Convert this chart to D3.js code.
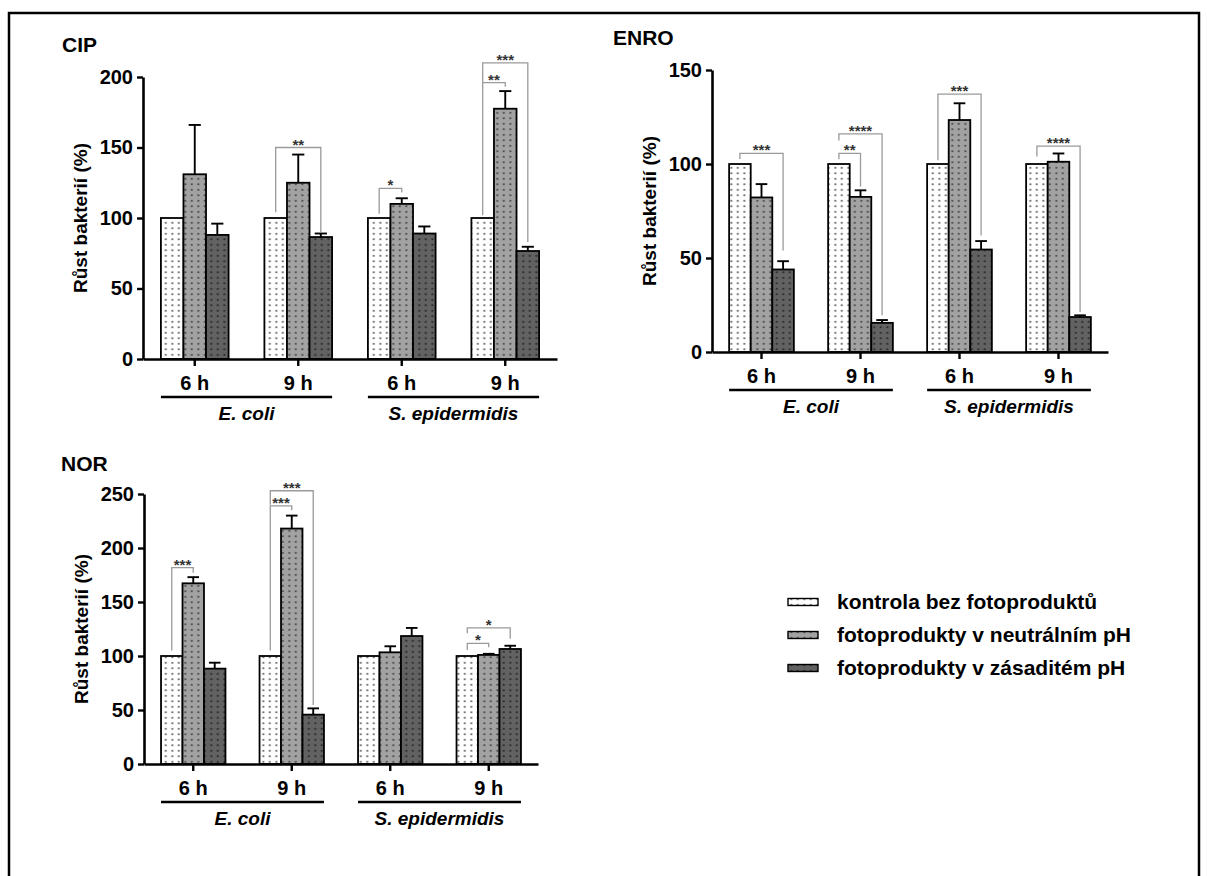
<!DOCTYPE html>
<html>
<head>
<meta charset="utf-8">
<script src="https://cdn.jsdelivr.net/npm/d3@7/dist/d3.min.js"></script>
<style>
  body { margin: 0; background: #fff; }
  svg { display: block; font-family: "Liberation Sans", Arial, sans-serif; font-weight: bold; }
</style>
</head>
<body>
<svg id="chart"></svg>
<script>
// categories
const times = ["6 h", "9 h", "6 h", "9 h"];
const species = ["E. coli", "S. epidermidis"];
const series = ["kontrola bez fotoproduktů", "fotoprodukty v neutrálním pH", "fotoprodukty v zásaditém pH"];

// values (% growth), one entry per time group
const control = [100, 100, 100, 100];
const controlErr = [0, 0, 0, 0];

const cipNeutral = [131, 125, 110, 177.5];
const cipNeutralErr = [35, 20, 4, 12.5];
const cipAlkaline = [88, 86.5, 89, 76.6];
const cipAlkalineErr = [8, 2.5, 5, 3];

const enroNeutral = [82.2, 82.5, 123.4, 101.2];
const enroNeutralErr = [7.1, 3.5, 8.9, 4.4];
const enroAlkaline = [43.9, 15.5, 54.5, 18.6];
const enroAlkalineErr = [4.4, 1.5, 4.5, 0.9];

const norNeutral = [167.3, 218, 103.4, 101];
const norNeutralErr = [5.7, 12, 5.6, 1];
const norAlkaline = [88.3, 45.7, 118.5, 106.5];
const norAlkalineErr = [5.5, 5.8, 7.5, 3];

// significance brackets: [group, from series, to series, top, left leg end, right leg end, label]
const cipStars = [
  [1, 0, 2, 150, 104, 90, "**"],
  [2, 0, 1, 121, 103, 118, "*"],
  [3, 0, 1, 196, 102, 193, "**"],
  [3, 0, 2, 210, 196, 83, "***"]
];
const enroStars = [
  [0, 0, 2, 105.6, 102.6, 54, "***"],
  [1, 0, 1, 105.6, 102.5, 88, "**"],
  [1, 0, 2, 116, 112.5, 19.5, "****"],
  [2, 0, 2, 137.2, 102, 62, "***"],
  [3, 0, 2, 109.5, 104, 21.3, "****"]
];
const norStars = [
  [0, 0, 1, 181.8, 105, 177, "***"],
  [1, 0, 1, 239, 105, 235, "***"],
  [1, 0, 2, 253, 240, 54.6, "***"],
  [3, 0, 1, 111.7, 105.5, 108, "*"],
  [3, 0, 2, 126, 121, 116, "*"]
];

const W = 1207, H = 876;
const svg = d3.select("#chart").attr("width", W).attr("height", H);

// frame
svg.append("rect")
  .attr("x", 9).attr("y", 13)
  .attr("width", 1190).attr("height", 900)
  .attr("fill", "none").attr("stroke", "#000").attr("stroke-width", 2.5);

// dotted fills
const fills = [
  { bg: "#ffffff", dot: "#5e5e5e" },
  { bg: "#a2a2a2", dot: "#444444" },
  { bg: "#626262", dot: "#262626" }
];
const defs = svg.append("defs");
fills.forEach((f, i) => {
  const p = defs.append("pattern")
    .attr("id", "pat" + i)
    .attr("patternUnits", "userSpaceOnUse")
    .attr("width", 6.5).attr("height", 5.5);
  p.append("rect").attr("width", 6.5).attr("height", 5.5).attr("fill", f.bg);
  p.append("rect").attr("x", 2.4).attr("y", 1.9).attr("width", 1.8).attr("height", 1.8).attr("fill", f.dot);
});

function DrawPanel(box, vals, errs, stars) {
  const g = svg.append("g");

  const x = d3.scaleBand()
    .domain(d3.range(times.length))
    .range([box.x0, box.x1]);
  const bw = x.bandwidth() * 0.218;
  const xs = d3.scaleBand()
    .domain(d3.range(series.length))
    .range([-1.5 * bw, 1.5 * bw]);
  const cx = i => x(i) + x.bandwidth() / 2;

  const y = d3.scaleLinear()
    .domain([0, box.yMax])
    .range([box.y0, box.yTop]);

  const rows = [];
  times.forEach((t, gi) => {
    series.forEach((s, si) => {
      rows.push({ g: gi, s: si, v: vals[si][gi], e: errs[si][gi] });
    });
  });

  // error bars (upper only)
  const eb = g.append("g").attr("stroke", "#000").attr("stroke-width", 1.9);
  rows.filter(d => d.e > 0).forEach(d => {
    const mx = cx(d.g) + xs(d.s) + bw / 2;
    eb.append("line")
      .attr("x1", mx).attr("x2", mx)
      .attr("y1", y(d.v)).attr("y2", y(d.v + d.e));
    eb.append("line")
      .attr("x1", mx - bw * 0.27).attr("x2", mx + bw * 0.27)
      .attr("y1", y(d.v + d.e)).attr("y2", y(d.v + d.e));
  });

  // bars
  g.selectAll(".bar")
    .data(rows)
    .enter()
    .append("rect")
    .attr("class", "bar")
    .attr("x", d => cx(d.g) + xs(d.s))
    .attr("width", bw)
    .attr("y", d => y(d.v))
    .attr("height", d => box.y0 - y(d.v))
    .attr("fill", d => "url(#pat" + d.s + ")")
    .attr("stroke", "#000")
    .attr("stroke-width", 1.8);

  // y axis
  const yAxis = d3.axisLeft(y)
    .tickValues(d3.range(0, box.yMax + 1, 50))
    .tickSize(6)
    .tickSizeOuter(0)
    .tickPadding(4);
  const ya = g.append("g")
    .attr("transform", `translate(${box.x0}, 0)`)
    .call(yAxis);
  ya.select(".domain").attr("stroke-width", 2.6);
  ya.selectAll(".tick line").attr("stroke-width", 2.4);
  ya.selectAll("text")
    .attr("font-size", 20).attr("font-family", "Liberation Sans, Arial, sans-serif")
    .attr("font-weight", "bold").attr("fill", "#000");

  // x axis
  const xAxis = d3.axisBottom(x)
    .tickFormat(i => times[i])
    .tickSize(7)
    .tickSizeOuter(0)
    .tickPadding(10);
  const xa = g.append("g")
    .attr("transform", `translate(0, ${box.y0})`)
    .call(xAxis);
  xa.select(".domain").attr("stroke-width", 2.6);
  xa.selectAll(".tick line").attr("stroke-width", 2.4);
  xa.selectAll("text")
    .attr("font-size", 20).attr("font-family", "Liberation Sans, Arial, sans-serif")
    .attr("font-weight", "bold").attr("fill", "#000");

  // species underlines and labels
  species.forEach((sp, k) => {
    const left = cx(2 * k) + xs(0);
    const right = cx(2 * k + 1) + xs(2) + bw;
    g.append("line")
      .attr("x1", left).attr("x2", right)
      .attr("y1", box.y0 + 38).attr("y2", box.y0 + 38)
      .attr("stroke", "#000").attr("stroke-width", 2.6);
    g.append("text")
      .attr("x", (left + right) / 2).attr("y", box.y0 + 61)
      .attr("text-anchor", "middle")
      .attr("font-size", 19).attr("font-style", "italic")
      .text(sp);
  });

  // y label
  g.append("text")
    .attr("transform", `translate(${box.x0 - 61}, ${(box.y0 + box.yTop) / 2}) rotate(-90)`)
    .attr("text-anchor", "middle")
    .attr("dominant-baseline", "middle")
    .attr("font-size", 19)
    .text("Růst bakterií (%)");

  // title
  g.append("text")
    .attr("x", box.tx).attr("y", box.ty)
    .attr("font-size", 21)
    .text(box.title);

  // significance brackets
  stars.forEach(st => {
    const [gi, a, b, top, la, lb, label] = st;
    const xa1 = cx(gi) + xs(a) + bw / 2;
    const xb1 = cx(gi) + xs(b) + bw / 2;
    g.append("path")
      .attr("d", `M${xa1},${y(la)}V${y(top)}H${xb1}V${y(lb)}`)
      .attr("fill", "none")
      .attr("stroke", "#9a9a9a")
      .attr("stroke-width", 1.3);
    g.append("text")
      .attr("x", (xa1 + xb1) / 2).attr("y", y(top) + 2)
      .attr("text-anchor", "middle")
      .attr("font-size", 15)
      .attr("fill", "#333")
      .text(label);
  });
}

DrawPanel({ title: "CIP", tx: 62, ty: 52, x0: 143, x1: 557, y0: 359, yTop: 77, yMax: 200 },
  [control, cipNeutral, cipAlkaline], [controlErr, cipNeutralErr, cipAlkalineErr], cipStars);
DrawPanel({ title: "ENRO", tx: 613, ty: 45, x0: 712, x1: 1108, y0: 352, yTop: 70, yMax: 150 },
  [control, enroNeutral, enroAlkaline], [controlErr, enroNeutralErr, enroAlkalineErr], enroStars);
DrawPanel({ title: "NOR", tx: 61, ty: 471, x0: 144, x1: 538, y0: 764, yTop: 494, yMax: 250 },
  [control, norNeutral, norAlkaline], [controlErr, norNeutralErr, norAlkalineErr], norStars);

// legend
const lg = svg.append("g").attr("transform", "translate(788, 602)");
series.forEach((s, i) => {
  const row = lg.append("g").attr("transform", `translate(0, ${i * 33})`);
  row.append("rect")
    .attr("x", 0).attr("y", -3.5)
    .attr("width", 30).attr("height", 7)
    .attr("fill", "url(#pat" + i + ")")
    .attr("stroke", "#000").attr("stroke-width", 1.4);
  row.append("text")
    .attr("x", 49).attr("y", 6.5)
    .attr("font-size", 21)
    .text(s);
});
</script>
</body>
</html>
